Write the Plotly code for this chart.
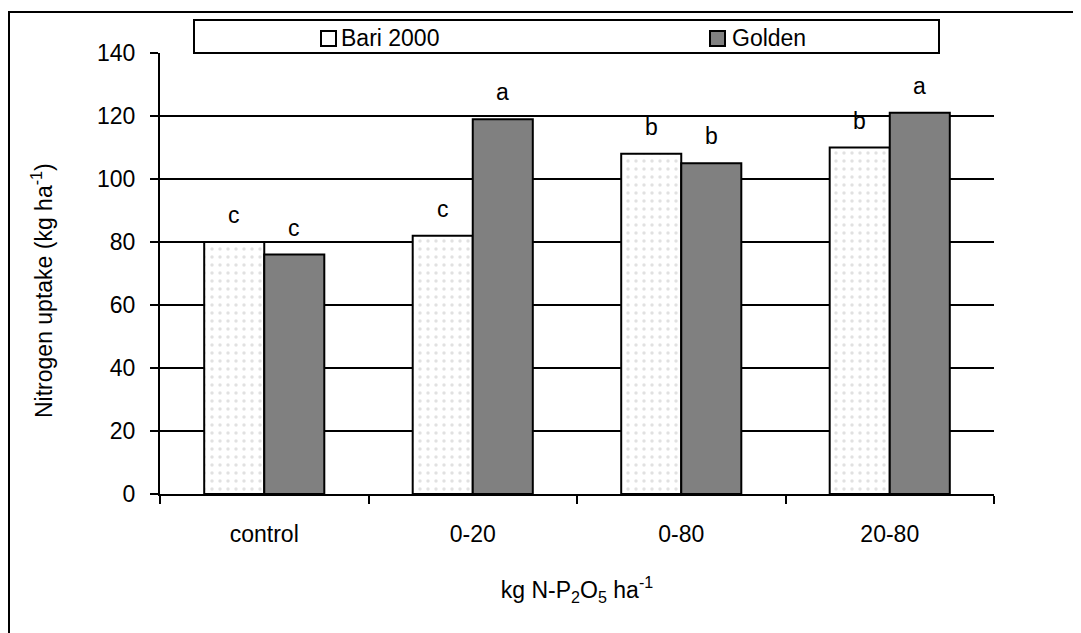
import plotly.graph_objects as go

categories = ["control", "0-20", "0-80", "20-80"]
bari_2000 = [80, 82, 108, 110]
golden = [76, 119, 105, 121]
bari_letters = ["c", "c", "b", "b"]
golden_letters = ["c", "a", "b", "a"]
series_names = ["Bari 2000", "Golden"]
y_ticks = [0, 20, 40, 60, 80, 100, 120, 140]

FONT = "Liberation Sans, Arial, sans-serif"
FS = 23

fig = go.Figure()
fig.add_trace(go.Bar(
    x=categories, y=bari_2000, name=series_names[0],
    marker=dict(color="white", line=dict(color="black", width=2),
                pattern=dict(shape=".", fgcolor="#c4c4c4", bgcolor="white", size=8, solidity=0.15)),
    showlegend=False,
))
fig.add_trace(go.Bar(
    x=categories, y=golden, name=series_names[1],
    marker=dict(color="#808080", line=dict(color="black", width=2)),
    showlegend=False,
))

annotations = []
for cat, v, t in zip(categories, bari_2000, bari_letters):
    annotations.append(dict(x=cat, y=v, text=t, xref="x", yref="y", showarrow=False,
                            xshift=-30, yshift=12, yanchor="bottom",
                            font=dict(size=FS, color="black", family=FONT)))
for cat, v, t in zip(categories, golden, golden_letters):
    annotations.append(dict(x=cat, y=v, text=t, xref="x", yref="y", showarrow=False,
                            xshift=30, yshift=12, yanchor="bottom",
                            font=dict(size=FS, color="black", family=FONT)))


def px(xp):
    return (xp - 160) / 834


def py(yp):
    return (494 - yp) / 441


# y-axis title
annotations.append(dict(x=px(42), y=py(291), xref="paper", yref="paper",
                        text="Nitrogen uptake (kg ha<sup>-1</sup>)", textangle=-90,
                        showarrow=False, xanchor="center", yanchor="middle",
                        font=dict(size=FS, color="black", family=FONT)))

# manual legend entries
annotations.append(dict(x=px(339), y=py(37.5), xref="paper", yref="paper",
                        text=series_names[0], showarrow=False, xanchor="left", yanchor="middle",
                        font=dict(size=FS, color="black", family=FONT)))
annotations.append(dict(x=px(730), y=py(37.5), xref="paper", yref="paper",
                        text=series_names[1], showarrow=False, xanchor="left", yanchor="middle",
                        font=dict(size=FS, color="black", family=FONT)))

shapes = [
    # outer frame
    dict(type="rect", xref="paper", yref="paper", x0=px(9), x1=1.3, y0=-0.4, y1=py(12),
         line=dict(color="black", width=2), fillcolor="rgba(0,0,0,0)", layer="below"),
    # legend box
    dict(type="rect", xref="paper", yref="paper", x0=px(194), x1=px(939), y0=py(53), y1=py(20),
         line=dict(color="black", width=2), fillcolor="white", layer="above"),
    dict(type="rect", xref="paper", yref="paper", x0=px(321), x1=px(336), y0=py(46), y1=py(31),
         line=dict(color="black", width=2), fillcolor="white", layer="above"),
    dict(type="rect", xref="paper", yref="paper", x0=px(710), x1=px(725), y0=py(46), y1=py(31),
         line=dict(color="black", width=2), fillcolor="#808080", layer="above"),
]

fig.update_layout(
    width=1073, height=625,
    margin=dict(l=152, r=87, t=45, b=139),
    paper_bgcolor="white", plot_bgcolor="white",
    barmode="group", bargap=0.424, bargroupgap=0,
    font=dict(family=FONT, size=FS, color="black"),
    annotations=annotations, shapes=shapes,
    xaxis=dict(
        showgrid=False, showline=True, linecolor="black", linewidth=2,
        ticks="outside", tickson="boundaries", ticklen=8, tickwidth=2, tickcolor="black",
        ticklabelstandoff=18,
        title=dict(text="kg N-P<sub>2</sub>O<sub>5</sub> ha<sup>-1</sup>", standoff=36,
                   font=dict(size=FS, family=FONT)),
    ),
    yaxis=dict(
        range=[0, 140], tickvals=y_ticks, showgrid=True, gridcolor="black", gridwidth=2,
        showline=True, linecolor="black", linewidth=2, zeroline=False,
        ticks="outside", ticklen=8, tickwidth=2, tickcolor="black",
        ticklabelstandoff=10,
    ),
)

fig.write_html("out.html")
